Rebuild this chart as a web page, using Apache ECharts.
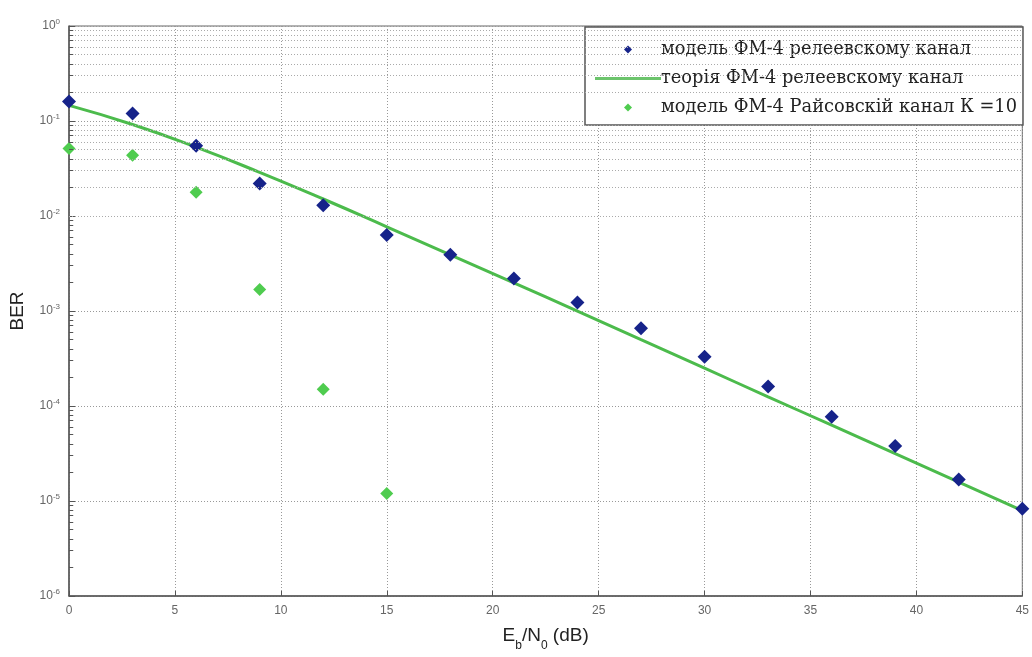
<!DOCTYPE html>
<html><head><meta charset="utf-8">
<script src="https://cdn.jsdelivr.net/npm/echarts@6/dist/echarts.min.js"></script>
<style>html,body{margin:0;padding:0;background:#fff}#c{width:1032px;height:657px}</style>
</head><body><div id="c"></div>
<script>
// Data
const snrSim = [0,3,6,9,12,15,18,21,24,27,30,33,36,39,42,45];
const berRayleighSim = [0.16,0.12,0.055,0.022,0.013,0.0063,0.0039,0.0022,0.00123,0.00066,0.00033,0.00016,0.000077,0.000038,0.0000168,0.0000083];
const snrTheory = [0,3,6,9,12,15,18,21,24,27,30,33,36,39,42,45];
const berRayleighTheory = [0.146,0.0918,0.053,0.0288,0.0151,0.0077,0.0039,0.00198,0.000995,0.000499,0.00025,0.000125,0.0000628,0.0000315,0.0000158,0.0000079];
const snrRician = [0,3,6,9,12,15];
const berRicianSim = [0.0515,0.0435,0.0178,0.00168,0.00015,0.000012];
const xTicks = [0,5,10,15,20,25,30,35,40,45];
const yDecades = [1e-6,1e-5,1e-4,1e-3,1e-2,1e-1,1];
const seriesNames = ['модель ФМ-4 релеевскому канал','теорія ФМ-4 релеевскому канал','модель ФМ-4 Райсовскій канал К =10'];

const pair = (xs, ys) => xs.map((x,i)=>[x, ys[i]]);
// minor grid positions (2..9 x 10^k) and short minor ticks on the left axis
const minorGrid = [];
const minorTicks = [];
for (let d = 0; d < yDecades.length - 1; d++) {
  for (let m = 2; m <= 9; m++) {
    const v = +(m * yDecades[d]).toPrecision(3);
    minorGrid.push({yAxis: v});
    minorTicks.push([{coord: [0, v]}, {coord: [0.2, v]}]);
  }
}

const chart = echarts.init(document.getElementById('c'));
chart.setOption({
  backgroundColor: '#fff',
  animation: false,
  grid: {left: 69, right: 6, top: 26, bottom: 59, show: true, borderColor: '#666', borderWidth: 1, backgroundColor: '#fff'},
  xAxis: {
    type: 'value', min: 0, max: 45, interval: 5,
    name: '{n|E}{sub|b}{n|/N}{sub|0}{n| (dB)}',
    nameLocation: 'middle', nameGap: 30,
    nameTextStyle: {
      rich: {
        n: {fontFamily: 'Liberation Sans, Arial', fontSize: 19, color: '#222', verticalAlign: 'top'},
        sub: {fontFamily: 'Liberation Sans, Arial', fontSize: 12, color: '#222', padding: [14,0,0,0], verticalAlign: 'top'}
      }
    },
    axisLine: {onZero: false, lineStyle: {color: '#555', width: 1.5}},
    axisTick: {inside: true, length: 5, lineStyle: {color: '#555'}},
    axisLabel: {color: '#666', fontFamily: 'Liberation Sans, Arial', fontSize: 12, margin: 9},
    splitLine: {show: true, lineStyle: {color: '#999', type: [1,2], width: 1}}
  },
  yAxis: {
    type: 'log', logBase: 10, min: 1e-6, max: 1,
    name: 'BER', nameLocation: 'middle', nameGap: 42, nameRotate: 90,
    nameTextStyle: {fontFamily: 'Liberation Sans, Arial', fontSize: 19, color: '#222'},
    axisLine: {lineStyle: {color: '#555', width: 1.5}},
    axisTick: {inside: true, length: 6, lineStyle: {color: '#555'}},
    axisLabel: {
      color: '#666', margin: 9,
      formatter: function (v) {
        const e = Math.round(Math.log10(v));
        return '{b|10}{s|' + e + '}';
      },
      rich: {
        b: {fontFamily: 'Liberation Sans, Arial', fontSize: 12, color: '#666'},
        s: {fontFamily: 'Liberation Sans, Arial', fontSize: 8, color: '#666', verticalAlign: 'bottom', padding: [0,0,9,0]}
      }
    },
    splitLine: {show: true, lineStyle: {color: '#999', type: [1,2], width: 1}}
  },
  legend: {
    orient: 'vertical', left: 585, top: 27,
    padding: [12, 6, 7, 10],
    itemGap: 8, itemWidth: 66, itemHeight: 8,
    symbolKeepAspect: true,
    backgroundColor: '#fff', borderColor: '#555', borderWidth: 1.5,
    textStyle: {fontFamily: 'DejaVu Serif', fontSize: 17.8, lineHeight: 21, color: '#222', padding: [0,0,0,-5]},
    data: [
      {name: seriesNames[0], icon: 'path://M5,0 L10,5 L5,10 L0,5 Z'},
      {name: seriesNames[1], icon: 'path://M0,0 H66 V3 H0 Z'},
      {name: seriesNames[2], icon: 'path://M5,0 L10,5 L5,10 L0,5 Z'}
    ]
  },
  series: [
    {
      name: seriesNames[1], type: 'line', symbol: 'none', showSymbol: false, smooth: true,
      data: pair(snrTheory, berRayleighTheory),
      lineStyle: {color: '#4cbb4c', width: 3},
      itemStyle: {color: '#6cc46c'},
      z: 3,
      markLine: {
        silent: true, symbol: 'none', label: {show: false}, animation: false,
        lineStyle: {color: '#aaa', type: [1,2], width: 1},
        data: minorGrid
      }
    },
    {
      name: 'minorTicks', type: 'line', data: [], silent: true,
      markLine: {
        silent: true, symbol: 'none', label: {show: false}, animation: false,
        lineStyle: {color: '#555', type: 'solid', width: 1},
        data: minorTicks
      }
    },
    {
      name: seriesNames[0], type: 'scatter', symbol: 'diamond', symbolSize: 14,
      data: pair(snrSim, berRayleighSim),
      itemStyle: {color: '#16238a', opacity: 1}, z: 4
    },
    {
      name: seriesNames[2], type: 'scatter', symbol: 'diamond', symbolSize: 13,
      data: pair(snrRician, berRicianSim),
      itemStyle: {color: '#4fcc4f', opacity: 1}, z: 4
    }
  ]
});
</script></body></html>
